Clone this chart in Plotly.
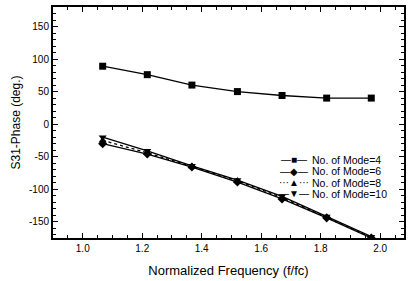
import plotly.graph_objects as go

freq = [1.067, 1.217, 1.367, 1.52, 1.67, 1.82, 1.97]
mode4 = [89, 76, 60, 50, 44, 40, 40]
mode6 = [-30, -46, -66, -89, -115, -144, -175]
mode8 = [-25, -44, -65, -87, -113, -143, -174]
mode10 = [-20, -41, -64, -86, -111, -142, -173]

series_names = ["No. of Mode=4", "No. of Mode=6", "No. of Mode=8", "No. of Mode=10"]
series_values = [mode4, mode6, mode8, mode10]
series_symbols = ["square", "diamond", "triangle-up", "triangle-down"]
series_dash = ["solid", "solid", "dot", "solid"]
legend_glyphs = ["—■—", "—◆—", "···▲···", "—▼—"]

x_ticks = [1.0, 1.2, 1.4, 1.6, 1.8, 2.0]
x_ticklabels = ["1.0", "1.2", "1.4", "1.6", "1.8", "2.0"]
y_ticks = [-150, -100, -50, 0, 50, 100, 150]
y_ticklabels = ["-150", "-100", "-50", "0", "50", "100", "150"]

FONT = "Liberation Sans, Arial, sans-serif"

fig = go.Figure()
for name, vals, sym, dash in zip(series_names, series_values, series_symbols, series_dash):
    fig.add_trace(go.Scatter(
        x=freq, y=vals, name=name, mode="lines+markers",
        line=dict(color="black", width=1.3, dash=dash),
        marker=dict(symbol=sym, size=7, color="black"),
        showlegend=False,
    ))

# legend drawn as text rows: sample glyph + label
for i, (name, glyph) in enumerate(zip(series_names, legend_glyphs)):
    yrow = 0.338 - 0.049 * i
    fig.add_annotation(
        x=0.686, y=yrow, xref="paper", yref="paper",
        xanchor="center", yanchor="middle", showarrow=False,
        text=glyph, font=dict(family=FONT, size=10, color="black"),
    )
    fig.add_annotation(
        x=0.731, y=yrow, xref="paper", yref="paper",
        xanchor="left", yanchor="middle", showarrow=False,
        text=name, font=dict(family=FONT, size=10.5, color="black"),
    )

axis_common = dict(
    showline=True, linecolor="black", linewidth=2, mirror="allticks",
    ticks="inside", ticklen=5, tickwidth=1, tickcolor="black",
    showgrid=False, zeroline=False,
    tickfont=dict(family=FONT, size=10, color="black"),
)

fig.update_xaxes(
    range=[0.9, 2.08], tickvals=x_ticks, ticktext=x_ticklabels,
    minor=dict(ticks="inside", dtick=0.05, tick0=0.9, ticklen=3, tickcolor="black"),
    title=dict(text="Normalized Frequency (f/fc)", font=dict(family=FONT, size=13, color="black"), standoff=13),
    **axis_common,
)
fig.update_yaxes(
    range=[-175, 180], tickvals=y_ticks, ticktext=y_ticklabels,
    minor=dict(ticks="inside", dtick=10, tick0=0, ticklen=3, tickcolor="black"),
    title=dict(text="S31-Phase (deg.)", font=dict(family=FONT, size=12, color="black"), standoff=6),
    **axis_common,
)

fig.update_layout(
    width=411, height=281,
    margin=dict(l=53, r=5, t=7, b=43),
    paper_bgcolor="white", plot_bgcolor="white",
    font=dict(family=FONT, color="black"),
)

fig.write_html("out.html", config={"displayModeBar": False},
               post_script="document.body.style.margin='0';")
